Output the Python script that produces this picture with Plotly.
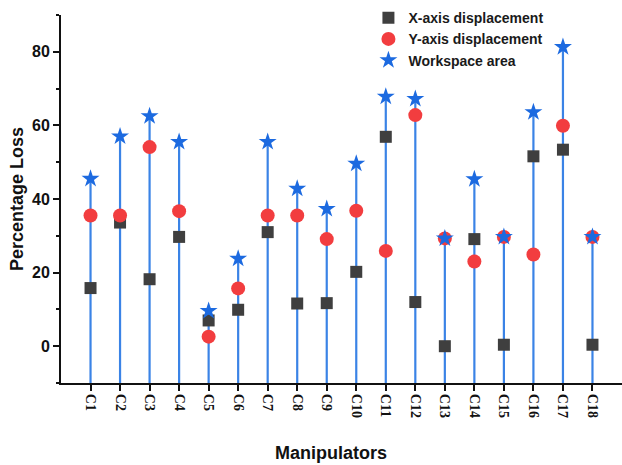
import plotly.graph_objects as go

# Manipulator configurations
manipulators = [f"C{i}" for i in range(1, 19)]
positions = list(range(1, 19))

# Percentage loss per manipulator
x_disp = [15.8, 33.6, 18.2, 29.7, 7.0, 9.9, 31.0, 11.6, 11.7,
          20.2, 56.9, 12.0, 0.0, 29.1, 0.4, 51.6, 53.4, 0.4]
y_disp = [35.5, 35.5, 54.1, 36.7, 2.6, 15.7, 35.5, 35.5, 29.1,
          36.8, 25.9, 62.8, 29.3, 23.0, 29.7, 24.9, 59.9, 29.7]
workspace = [45.5, 57.0, 62.5, 55.5, 9.6, 23.8, 55.5, 42.8, 37.3,
             49.6, 67.8, 67.2, 29.3, 45.4, 29.7, 63.6, 81.3, 29.7]

y_min, y_max = -10, 90

fig = go.Figure()

# Drop lines from the x-axis up to each workspace-area point
stem_x, stem_y = [], []
for p, w in zip(positions, workspace):
    stem_x += [p, p, None]
    stem_y += [y_min, w, None]
fig.add_trace(go.Scatter(
    x=stem_x, y=stem_y, mode="lines",
    line=dict(color="#3a83e6", width=2.2),
    showlegend=False, hoverinfo="skip",
))

fig.add_trace(go.Scatter(
    x=positions, y=x_disp, mode="markers", name="X-axis displacement",
    marker=dict(symbol="square", size=12, color="#3f3f3f"),
))
fig.add_trace(go.Scatter(
    x=positions, y=y_disp, mode="markers", name="Y-axis displacement",
    marker=dict(symbol="circle", size=14, color="#f23d3f"),
))
fig.add_trace(go.Scatter(
    x=positions, y=workspace, mode="markers", name="Workspace area",
    marker=dict(symbol="star", size=13.5, color="#1c6ae0"),
))

sans = "Liberation Sans, Arial, sans-serif"
serif = "Liberation Serif, Times New Roman, serif"

fig.update_layout(
    width=622, height=465,
    margin=dict(l=61, r=0, t=15, b=82),
    paper_bgcolor="white", plot_bgcolor="white",
    showlegend=True,
    legend=dict(
        x=0.548, y=1.035, xanchor="left", yanchor="top",
        bgcolor="rgba(0,0,0,0)",
        font=dict(family=sans, size=14, color="#1a1a1a", weight="bold"),
        itemsizing="trace",
        tracegroupgap=0,
    ),
    xaxis=dict(
        range=[0, 19],
        tickmode="array", tickvals=positions, ticktext=manipulators,
        tickangle=90,
        tickfont=dict(family=serif, size=14, color="#111111", weight="bold"),
        ticks="outside", ticklen=6, tickwidth=2, tickcolor="#111111",
        showline=True, linewidth=2, linecolor="#111111",
        showgrid=False, zeroline=False,
    ),
    yaxis=dict(
        range=[y_min, y_max],
        tickmode="array", tickvals=[0, 20, 40, 60, 80],
        tickfont=dict(family=sans, size=16, color="#111111", weight="bold"),
        ticks="outside", ticklen=6, tickwidth=2, tickcolor="#111111",
        minor=dict(tickmode="array", tickvals=[-10, 10, 30, 50, 70, 90],
                   ticks="outside", ticklen=3, tickwidth=2,
                   tickcolor="#111111", showgrid=False),
        showline=True, linewidth=2, linecolor="#111111",
        showgrid=False, zeroline=False,
        title=dict(text="Percentage Loss", standoff=4,
                   font=dict(family=sans, size=18, color="#111111",
                             weight="bold")),
    ),
    annotations=[dict(
        text="Manipulators", xref="paper", yref="paper",
        x=(331 - 61) / 561, y=-0.19, xanchor="center", yanchor="middle",
        showarrow=False,
        font=dict(family=sans, size=18, color="#111111", weight="bold"),
    )],
)

fig.write_html("out.html")
